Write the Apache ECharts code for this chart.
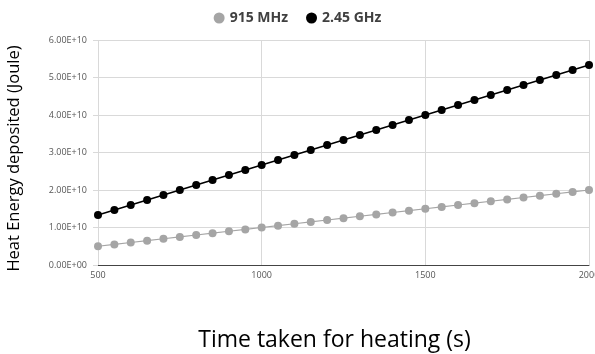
<!DOCTYPE html>
<html><head><meta charset="utf-8">
<script src="https://cdn.jsdelivr.net/npm/echarts@6/dist/echarts.min.js"></script>
<style>html,body{margin:0;padding:0;background:#fff}#c{width:595px;height:354px}</style>
</head><body><div id="c"></div>
<script>
var timeS = [500,550,600,650,700,750,800,850,900,950,1000,1050,1100,1150,1200,1250,1300,1350,1400,1450,1500,1550,1600,1650,1700,1750,1800,1850,1900,1950,2000];
var mhz915 = [5.00e9,5.50e9,6.00e9,6.50e9,7.00e9,7.50e9,8.00e9,8.50e9,9.00e9,9.50e9,1.00e10,1.05e10,1.10e10,1.15e10,1.20e10,1.25e10,1.30e10,1.35e10,1.40e10,1.45e10,1.50e10,1.55e10,1.60e10,1.65e10,1.70e10,1.75e10,1.80e10,1.85e10,1.90e10,1.95e10,2.00e10];
var ghz245 = [1.333e10,1.467e10,1.600e10,1.733e10,1.867e10,2.000e10,2.133e10,2.267e10,2.400e10,2.533e10,2.667e10,2.800e10,2.933e10,3.067e10,3.200e10,3.333e10,3.467e10,3.600e10,3.733e10,3.867e10,4.000e10,4.133e10,4.267e10,4.400e10,4.533e10,4.667e10,4.800e10,4.933e10,5.067e10,5.200e10,5.333e10];
var seriesNames = ['915 MHz','2.45 GHz'];
var xTicks = [500,1000,1500,2000];

function pairs(xs, ys){ return xs.map(function(x,i){return [x, ys[i]];}); }
function sci(v){
  var s = v.toExponential(2).toUpperCase();
  return s.replace(/E([+-])(\d)$/, 'E$10$2');
}
var font = '"Open Sans", "Liberation Sans", sans-serif';
var chart = echarts.init(document.getElementById('c'), null, {renderer:'canvas'});
chart.setOption({
  animation:false,
  textStyle:{fontFamily:font},
  legend:{
    top:6, left:'center', icon:'circle', itemWidth:11, itemHeight:11, itemGap:18,
    textStyle:{fontSize:14, fontWeight:'bold', color:'#404040', fontFamily:font},
    data:seriesNames
  },
  grid:{left:98, right:6, top:40, bottom:89, containLabel:false, outerBoundsMode:'none'},
  xAxis:{
    type:'value', min:500, max:2000, interval:500,
    name:'Time taken for heating (s)', nameLocation:'middle', nameGap:64,
    nameTextStyle:{fontSize:23, color:'#000', fontFamily:font, padding:[0,18,0,0]},
    axisLine:{show:true, lineStyle:{color:'#444', width:1}},
    axisTick:{show:false},
    axisLabel:{fontSize:9, color:'#555', margin:6, alignMaxLabel:'center', formatter:function(v){return String(v);}},
    splitLine:{show:true, lineStyle:{color:'#d9d9d9', width:1}}
  },
  yAxis:{
    type:'value', min:0, max:6e10, interval:1e10,
    name:'Heat Energy deposited (Joule)', nameLocation:'middle', nameGap:75,
    nameTextStyle:{fontSize:16.5, color:'#000', fontFamily:font, padding:[0,12,0,0]},
    axisLine:{show:false},
    axisTick:{show:true, length:5, lineStyle:{color:'#d9d9d9'}},
    axisLabel:{fontSize:9, color:'#555', margin:11, formatter:sci},
    splitLine:{show:true, lineStyle:{color:'#d9d9d9', width:1}}
  },
  series:[
    {name:seriesNames[0], type:'line', data:pairs(timeS, mhz915), symbol:'circle', symbolSize:8,
     itemStyle:{color:'#a5a5a5'}, lineStyle:{color:'#a5a5a5', width:1.2}},
    {name:seriesNames[1], type:'line', data:pairs(timeS, ghz245), symbol:'circle', symbolSize:8,
     itemStyle:{color:'#000'}, lineStyle:{color:'#000', width:1.5}}
  ]
});
</script></body></html>
